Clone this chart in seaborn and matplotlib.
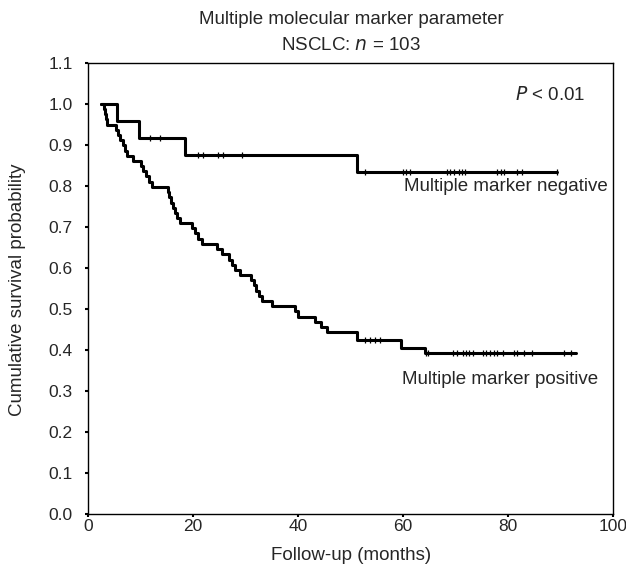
import matplotlib
matplotlib.use("Agg")
import matplotlib.pyplot as plt
import numpy as np
import pandas as pd
import seaborn as sns

# step curves: time (months) and survival after each drop
neg_times = [2.5, 5.5, 9.7, 18.5, 51.2, 89.3]
neg_surv = [1.0, 0.958, 0.917, 0.875, 0.833, 0.833]

pos_times = [2.5, 3.0, 3.2, 3.5, 3.7, 5.3, 5.7, 6.1, 6.6, 7.1, 7.5, 8.5,
             10.1, 10.5, 11.0, 11.6, 12.2, 15.2, 15.5, 15.8, 16.2, 16.6,
             17.0, 17.6, 19.9, 20.4, 21.0, 21.8, 24.5, 25.5, 26.8, 27.4,
             28.1, 28.9, 31.1, 31.6, 32.1, 32.6, 33.1, 35.0, 39.5, 40.0,
             43.3, 44.3, 45.5, 51.3, 59.6, 64.3, 93.0]
pos_surv = [1.0, 0.987, 0.975, 0.962, 0.949, 0.937, 0.924, 0.911, 0.899,
            0.886, 0.873, 0.861, 0.848, 0.835, 0.823, 0.810, 0.797, 0.785,
            0.772, 0.759, 0.747, 0.734, 0.721, 0.709, 0.696, 0.684, 0.671,
            0.658, 0.646, 0.633, 0.620, 0.608, 0.595, 0.582, 0.570, 0.557,
            0.544, 0.532, 0.519, 0.506, 0.494, 0.481, 0.468, 0.456, 0.443,
            0.424, 0.405, 0.392, 0.392]

# censored observations
neg_cens = [11.8, 13.7, 21.0, 22.0, 24.8, 25.7, 29.3, 52.8, 60.0, 60.6,
            61.3, 68.4, 69.0, 69.7, 70.6, 71.2, 71.9, 77.9, 78.6, 79.2,
            81.7, 82.7, 89.3]
pos_cens = [52.8, 53.7, 54.7, 55.6, 64.4, 64.7, 69.6, 70.3, 71.4, 72.0,
            72.6, 73.3, 75.2, 75.8, 76.5, 77.4, 78.0, 79.0, 81.2, 81.8,
            83.1, 84.6, 90.7, 92.0]

y_ticks = [0.0, 0.1, 0.2, 0.3, 0.4, 0.5, 0.6, 0.7, 0.8, 0.9, 1.0, 1.1]
x_ticks = [0, 20, 40, 60, 80, 100]


def surv_at(times, surv, t):
    idx = np.searchsorted(times, t, side="right") - 1
    return np.asarray(surv)[idx]


curves = pd.concat([
    pd.DataFrame({"t": neg_times, "s": neg_surv, "grp": "neg"}),
    pd.DataFrame({"t": pos_times, "s": pos_surv, "grp": "pos"}),
])
cens = pd.concat([
    pd.DataFrame({"t": neg_cens, "s": surv_at(neg_times, neg_surv, neg_cens)}),
    pd.DataFrame({"t": pos_cens, "s": surv_at(pos_times, pos_surv, pos_cens)}),
])

sns.set_style("ticks")
plt.rcParams["font.family"] = ["Liberation Sans", "DejaVu Sans"]

fig = plt.figure(figsize=(6.26, 5.7), dpi=100)
ax = fig.add_axes([0.1406, 0.0982, 0.8384, 0.7918])

for g in ["neg", "pos"]:
    sns.lineplot(data=curves[curves.grp == g], x="t", y="s", ax=ax,
                 color="black", linewidth=2.2, drawstyle="steps-post",
                 estimator=None, sort=False)
sns.scatterplot(data=cens, x="t", y="s", ax=ax, marker="|", s=25,
                color="black", linewidth=0.9, zorder=3)

ax.set_xlim(0, 100)
ax.set_ylim(0, 1.1)
ax.set_xticks(x_ticks)
ax.set_yticks(y_ticks)
ax.set_yticklabels([f"{v:.1f}" for v in y_ticks])
ax.tick_params(labelsize=12.5, length=2.5, width=1.5, color="black")
ax.tick_params(axis="y", pad=8.5)
ax.tick_params(axis="x", pad=0.8)
for sp in ax.spines.values():
    sp.set_color("black")
    sp.set_linewidth(1.0)
ax.set_xlabel("")
ax.set_ylabel("")

ax.text(0.947, 0.929, "$P$ < 0.01", transform=ax.transAxes, ha="right",
        va="center", fontsize=13.5)
ax.text(99, 0.798, "Multiple marker negative", ha="right", va="center",
        fontsize=13.5)
ax.text(97.1, 0.329, "Multiple marker positive", ha="right", va="center",
        fontsize=13.5)

fig.text(351 / 626, 1 - 20 / 570, "Multiple molecular marker parameter",
         ha="center", va="center", fontsize=13.5)
fig.text(351 / 626, 1 - 45 / 570, "NSCLC: $n$ = 103", ha="center",
         va="center", fontsize=13.5)
fig.text(351 / 626, 1 - 555 / 570, "Follow-up (months)", ha="center",
         va="center", fontsize=13.5)
fig.text(18 / 626, 1 - 290 / 570, "Cumulative survival probability",
         ha="center", va="center", rotation=90, fontsize=13.5)

fig.savefig("out.png", dpi=100)
